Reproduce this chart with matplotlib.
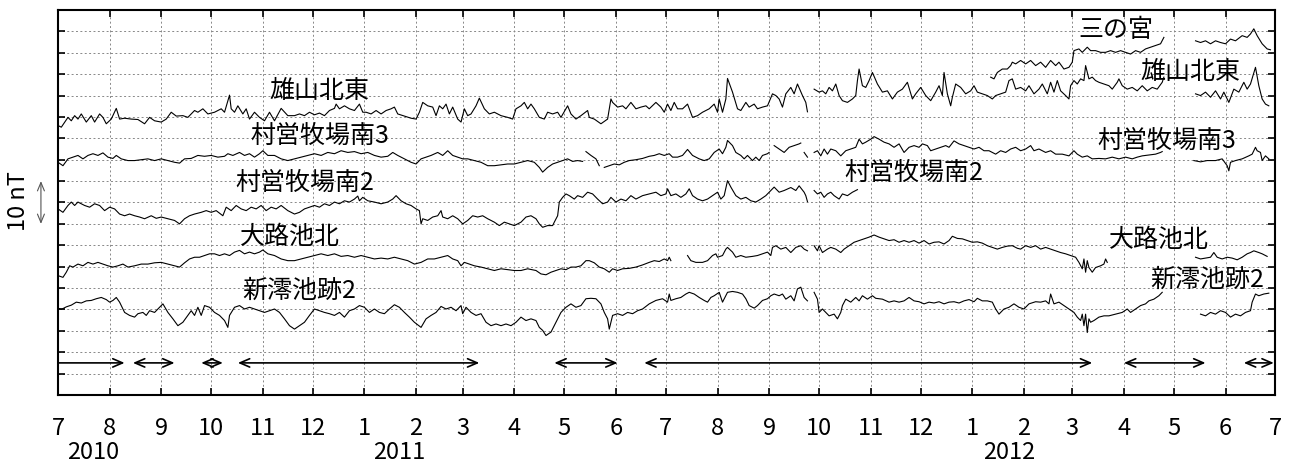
import numpy as np
import matplotlib.pyplot as plt

plt.rcParams['font.family'] = ['Noto Sans CJK JP', 'DejaVu Sans']

nan = np.nan
START = np.datetime64('2010-07-01')

# (days since 2010-07-01, nT) ; nan marks a data gap
sannomiya = [(560, 74.3), (562, 73.9), (564, 75.4), (567, 76.2), (570, 76.2), (572, 77.0), (573, 77.8), (575, 77.4),
             (578, 78.2), (581, 77.4), (584, 78.2), (587, 77.0), (590, 77.8), (593, 76.6), (596, 78.2), (599, 77.0),
             (601, 77.8), (604, 76.2), (607, 76.6), (609, 77.8), (610, 80.5), (613, 80.9), (615, 80.1), (618, 81.3),
             (620, 80.5), (623, 80.5), (626, 80.1), (629, 80.1), (632, 80.5), (635, 80.1), (638, 80.5), (641, 80.1),
             (644, 79.7), (647, 80.5), (650, 80.1), (653, 80.9), (656, 81.3), (659, 81.7), (662, 82.1), (664, 83.6),
             (670, nan), (683, 82.8), (686, 82.4), (689, 82.8), (692, 82.1), (695, 82.8), (698, 82.4), (701, 82.1),
             (704, 83.2), (707, 82.8), (711, 84.0), (714, 83.6), (716, 84.4), (718, 85.6), (720, 84.0), (723, 82.1),
             (726, 80.9), (728, 80.7)]

oyama = [(0, 63.0), (2, 62.6), (6, 64.9), (8, 64.1), (10, 65.3), (12, 64.5), (14, 65.7), (17, 63.8), (20, 65.3),
         (22, 63.8), (25, 65.7), (27, 64.9), (29, 63.4), (32, 64.5), (35, 67.0), (37, 64.5), (40, 64.7), (44, 64.5),
         (48, 64.4), (52, 63.4), (55, 64.9), (58, 64.1), (62, 63.8), (65, 64.5), (68, 66.1), (71, 65.2), (75, 65.3),
         (78, 64.9), (82, 66.5), (84, 66.1), (87, 66.9), (90, 65.7), (94, 66.1), (98, 66.9), (100, 66.1), (103, 70.1),
         (104, 66.9), (106, 66.1), (108, 67.6), (111, 65.7), (113, 66.9), (115, 64.5), (118, 66.1), (121, 64.9),
         (124, 64.1), (127, 66.1), (130, 64.1), (134, 67.0), (138, 65.3), (142, 65.3),
         (145, 65.7), (148, 65.3), (151, 66.1), (154, 65.5), (157, 65.9), (160, 65.3), (163, 66.5), (166, 67.0),
         (167, 68.0), (169, 66.9), (172, 67.6), (175, 66.9), (178, 66.5), (181, 68.0), (183, 66.1), (185, 66.1),
         (188, 65.7), (191, 66.5), (194, 65.7), (197, 66.5), (200, 66.9), (202, 67.3), (204, 65.7), (208, 65.2),
         (212, 64.7), (215, 64.5), (217, 66.1), (219, 68.4), (222, 67.6), (225, 67.3), (227, 65.3), (229, 67.6),
         (231, 66.9), (233, 68.0), (235, 65.7), (237, 67.3), (240, 64.5), (242, 63.8), (244, 66.9), (246, 65.3),
         (248, 65.7), (251, 67.6), (253, 69.4), (256, 66.9), (259, 65.7), (262, 66.1), (266, 65.3), (270, 64.9),
         (273, 64.5), (275, 66.9), (278, 67.6), (280, 68.4), (282, 66.9), (284, 68.0), (286, 66.9),
         (289, 64.9), (292, 64.5), (294, 66.1), (297, 65.7), (300, 66.1), (302, 64.9), (306, 67.6), (308, 65.7),
         (311, 64.5), (314, 65.3), (318, 66.5), (319, 64.9), (322, 64.5), (326, 63.4), (330, 64.5), (332, 69.2),
         (333, 68.4), (336, 67.3), (339, 67.6), (341, 66.9), (344, 68.4), (347, 66.9), (350, 67.3), (353, 67.6),
         (355, 66.9), (359, 68.4), (362, 67.3), (364, 66.1), (366, 68.0), (368, 66.5), (370, 68.4), (372, 66.9),
         (375, 66.9), (378, 68.0), (381, 64.9), (384, 65.3), (387, 66.1), (391, 66.9), (394, 68.0), (396, 66.1),
         (397, 69.2), (399, 66.1), (401, 69.2), (402, 74.0), (405, 70.8), (408, 66.9), (410, 66.5), (413, 68.4),
         (415, 67.3), (418, 68.0), (420, 66.9), (423, 67.3), (426, 67.6), (429, 70.4),
         (431, 70.0), (433, 69.2), (435, 67.3), (437, 70.4), (440, 71.9), (442, 70.4), (444, 72.7), (447, 70.0),
         (449, 68.4), (450, 66.2), (452, nan), (454, 71.5), (457, 70.8), (459, 71.1), (461, 70.4), (463, 71.9),
         (465, 71.1), (467, 72.7), (469, 70.0), (471, 68.8), (474, 68.4), (477, 69.2), (479, 70.0), (480, 73.5),
         (481, 76.2), (483, 72.3), (485, 71.9), (487, 73.5), (489, 75.4), (492, 72.7), (495, 70.8), (498, 71.1),
         (501, 69.2), (504, 70.8), (507, 71.5), (510, 73.1), (513, 69.2), (515, 70.4), (518, 71.9), (521, 70.0),
         (524, 68.8), (527, 70.8), (529, 72.3), (531, 70.0), (532, 75.4), (534, 70.4), (536, 67.6), (537, 69.6),
         (539, 72.7), (542, 71.9), (545, 70.4), (548, 71.1), (550, 72.3), (552, 70.8), (555, 70.4), (558, 70.0),
         (561, 69.2), (563, 70.0), (566, 70.4), (569, 70.8), (571, 73.5), (573, 73.9),
         (575, 71.5), (578, 71.9), (581, 71.1), (583, 72.3), (586, 70.4), (589, 71.5), (591, 72.7), (594, 70.4),
         (596, 73.1), (598, 70.8), (600, 73.5), (602, 71.1), (605, 70.0), (607, 69.2), (608, 72.3), (610, 73.5),
         (612, 72.7), (614, 73.9), (616, 73.5), (617, 77.0), (619, 73.9), (621, 74.3), (623, 73.5), (625, 73.1),
         (628, 72.7), (631, 72.3), (633, 71.5), (636, 73.1), (637, 73.9), (639, 72.3), (642, 71.5), (645, 71.9),
         (648, 71.1), (651, 72.3), (654, 71.1), (657, 71.9), (660, 71.5), (663, 73.1), (664, 74.3), (670, nan),
         (683, 70.4), (686, 70.0), (689, 70.8), (692, 69.6), (695, 71.1), (698, 69.2), (700, 70.8), (703, 68.4),
         (706, 71.5), (709, 70.8), (712, 73.1), (714, 71.5), (716, 72.7), (719, 76.6), (721, 72.3), (723, 69.2),
         (725, 68.0), (727, 67.6)]

bokujo3 = [(0, 54.4), (3, 53.6), (6, 55.2), (9, 55.6), (12, 56.0), (15, 55.2), (18, 56.0), (21, 56.4), (24, 56.0),
           (27, 56.6), (30, 55.6), (33, 55.3), (35, 56.0), (38, 55.2), (42, 54.8), (46, 54.8), (50, 55.0), (54, 55.2),
           (58, 54.8), (62, 55.2), (66, 54.8), (70, 54.4), (73, 54.2), (76, 55.2), (80, 55.3), (84, 56.0), (88, 55.8),
           (92, 56.0), (96, 55.6), (100, 55.8), (102, 56.4), (105, 56.0), (109, 56.7), (112, 56.0), (115, 56.4),
           (118, 55.6), (121, 56.4), (123, 57.1), (126, 56.0), (130, 56.0), (134, 55.2), (138, 54.8),
           (142, 55.2), (146, 55.6), (150, 56.0), (154, 56.4), (158, 56.0), (162, 56.7), (166, 56.4), (170, 57.1),
           (174, 56.7), (178, 56.9), (182, 56.4), (186, 56.7), (190, 56.0), (194, 55.6), (198, 55.8), (201, 56.7),
           (204, 56.0), (208, 55.2), (212, 54.4), (215, 54.0), (218, 55.2), (221, 55.6), (224, 56.0), (228, 56.7),
           (231, 56.0), (234, 57.1), (237, 56.0), (240, 55.6), (243, 55.2), (246, 55.2), (250, 54.8), (254, 54.4),
           (258, 53.6), (262, 53.6), (266, 53.8), (270, 54.0), (274, 54.0), (278, 54.4), (282, 54.8), (286, 54.4),
           (289, 53.2), (291, 52.1), (294, 53.2), (297, 54.0), (300, 54.4), (303, 54.8), (306, 55.2), (309, 54.6),
           (312, 54.8), (315, 54.6), (316, nan), (317, 56.9), (320, 56.0), (323, 55.2), (325, 53.6), (326, nan),
           (328, 53.2), (331, 53.6), (334, 54.0), (337, 53.8), (340, 54.4), (343, 54.8), (347, 55.0), (351, 55.3),
           (355, 55.8), (358, 56.0), (361, 56.4), (364, 56.0), (367, 56.4), (369, 55.6), (372, 55.6), (375, 56.0),
           (378, 57.4), (381, 56.0), (385, 55.2), (388, 54.8), (391, 55.2), (394, 56.7), (397, 57.5), (399, 56.4),
           (401, 57.9), (402, 59.5), (405, 58.3), (407, 56.7), (410, 56.0), (412, 55.2), (414, 56.0), (417, 54.8),
           (419, 55.6), (421, 54.8), (423, 56.0), (426, 56.4), (427, 56.7), (428, nan), (430, 58.3),
           (433, 57.5), (436, 56.7), (439, 57.9), (442, 58.3), (445, 58.7), (446, 58.9), (447, nan), (448, 56.7),
           (450, 55.6), (452, nan), (454, 56.7), (456, 57.1), (458, 55.9), (460, 57.5), (462, 56.3), (464, 57.5),
           (467, 57.1), (470, 55.9), (473, 57.1), (476, 57.5), (479, 57.9), (481, 59.8), (483, 58.7), (485, 59.1),
           (488, 59.8), (490, 60.4), (493, 59.8), (496, 59.1), (499, 58.7), (502, 57.9), (505, 58.7), (508, 56.7),
           (511, 57.9), (514, 58.3), (517, 57.9), (519, 58.7), (522, 58.3), (524, 57.1), (527, 57.5), (530, 57.9),
           (533, 58.3), (535, 57.9), (538, 59.4), (541, 58.7), (544, 58.3), (547, 57.9), (550, 57.5), (553, 57.9),
           (556, 57.1), (559, 57.1), (563, 56.3), (566, 57.1), (569, 56.7), (572, 57.5), (575, 57.9),
           (578, 57.1), (581, 57.5), (584, 58.3), (586, 57.1), (589, 57.5), (593, 56.7), (596, 57.1), (599, 56.3),
           (603, 56.3), (607, 55.9), (610, 57.1), (612, 56.3), (615, 55.6), (618, 55.9), (621, 55.2), (625, 55.3),
           (629, 55.2), (633, 55.6), (637, 55.2), (641, 55.6), (645, 55.2), (648, 55.6), (651, 55.9), (655, 56.1),
           (659, 56.3), (662, 56.7), (663, 56.9), (670, nan), (682, 54.8), (686, 54.5), (690, 54.8), (695, 54.8),
           (699, 55.2), (702, 53.6), (703, 52.4), (704, 54.4), (707, 54.8), (711, 55.2), (715, 55.9), (717, 56.3),
           (719, 57.9), (720, 57.1), (722, 56.7), (723, 54.8), (725, 55.9), (727, 55.2)]

bokujo2 = [(0, 43.5), (3, 42.7), (6, 44.3), (8, 45.1), (10, 44.3), (12, 45.1), (16, 44.3), (19, 43.9), (22, 44.7),
           (25, 44.3), (28, 43.1), (31, 43.9), (34, 43.5), (37, 42.3), (40, 41.9), (43, 42.3), (46, 41.9), (49, 41.6),
           (52, 41.2), (56, 41.9), (59, 41.3), (62, 41.6), (66, 41.2), (70, 40.8), (73, 40.0), (76, 41.2), (79, 41.9),
           (82, 42.3), (86, 42.7), (89, 43.1), (92, 42.7), (95, 43.1), (99, 41.9), (101, 43.9), (104, 43.1),
           (107, 44.3), (110, 43.5), (113, 43.1), (116, 43.9), (119, 43.5), (122, 44.3), (125, 43.1), (128, 43.9),
           (131, 43.5), (134, 44.3), (138, 43.1),
           (142, 42.3), (145, 42.7), (148, 43.5), (151, 43.9), (154, 44.3), (157, 43.9), (160, 44.7), (163, 44.3),
           (166, 45.1), (169, 44.7), (172, 45.4), (175, 45.1), (178, 45.8), (180, 46.5), (181, 45.4), (183, 46.2),
           (186, 45.4), (190, 45.1), (194, 44.7), (198, 45.1), (201, 45.8), (203, 46.6), (206, 45.4), (209, 44.7),
           (212, 44.3), (215, 43.5), (217, 43.1), (218, 40.0), (219, 41.2), (222, 40.8), (225, 41.6), (228, 41.9),
           (230, 43.1), (231, 41.6), (234, 41.2), (237, 41.9), (240, 41.2), (243, 40.0), (246, 40.8), (249, 41.9),
           (252, 41.6), (255, 41.9), (258, 41.2), (262, 40.4), (265, 39.6), (268, 40.4), (271, 40.0), (274, 39.6),
           (278, 40.4), (281, 41.6), (284, 41.9),
           (287, 41.2), (289, 40.0), (291, 39.2), (294, 39.6), (297, 39.6), (298, 40.4), (300, 41.9), (301, 45.1),
           (303, 46.2), (305, 47.0), (307, 46.6), (310, 45.8), (312, 46.6), (315, 46.2), (318, 47.4), (321, 47.0),
           (324, 45.8), (327, 44.7), (330, 45.1), (332, 46.2), (335, 45.1), (338, 45.8), (341, 45.4), (344, 46.6),
           (347, 45.8), (351, 46.6), (355, 47.0), (359, 47.4), (362, 46.6), (365, 47.0), (366, 48.2), (368, 46.6),
           (371, 47.0), (374, 46.2), (377, 47.0), (379, 48.2), (381, 46.6), (384, 45.8), (387, 45.4), (390, 45.8),
           (393, 46.6), (396, 47.4), (398, 45.8), (400, 46.6), (402, 50.1), (404, 48.6), (407, 46.6), (410, 45.8),
           (413, 46.2), (416, 45.4), (419, 45.1), (422, 45.8), (425, 46.6), (428, 47.8), (430, 48.6),
           (433, 47.4), (436, 47.8), (440, 48.5), (443, 47.8), (445, 48.9), (448, 47.4), (449, 46.6), (450, 45.2),
           (452, nan), (454, 47.8), (456, 47.0), (458, 47.4), (460, 46.2), (462, 47.0), (464, 47.4), (466, 46.6),
           (469, 45.8), (471, 47.0), (474, 46.6), (477, 47.4), (480, 48.0)]

ojiike = [(0, 27.9), (3, 27.5), (5, 28.7), (7, 30.2), (9, 29.9), (12, 30.6), (15, 30.2), (18, 31.0), (21, 30.6),
          (24, 31.0), (27, 30.6), (30, 30.2), (33, 29.9), (36, 30.2), (39, 30.6), (42, 29.9), (46, 30.2), (50, 30.6),
          (54, 30.6), (58, 30.9), (62, 31.0), (66, 30.6), (70, 30.2), (73, 29.9), (76, 30.9), (79, 31.8), (82, 32.2),
          (85, 32.2), (88, 32.6), (91, 33.0), (94, 33.0), (97, 32.6), (100, 33.0), (103, 32.6), (106, 33.4),
          (109, 33.8), (112, 33.0), (115, 33.4), (118, 33.0), (121, 33.4), (123, 33.9), (126, 33.0), (130, 32.6),
          (134, 31.8), (138, 31.4),
          (142, 31.4), (146, 31.8), (150, 32.2), (154, 32.6), (158, 33.0), (162, 32.6), (166, 33.0), (170, 32.4),
          (174, 32.6), (178, 32.2), (182, 32.6), (186, 32.2), (190, 31.8), (194, 32.0), (198, 31.8), (202, 32.2),
          (206, 31.8), (210, 31.4), (214, 30.6), (218, 31.0), (222, 31.8), (226, 31.8), (230, 32.2), (234, 32.6),
          (237, 31.8), (240, 31.4), (242, 30.2), (244, 31.0), (247, 30.6), (250, 30.2), (254, 29.9), (258, 29.5),
          (262, 29.1), (266, 29.5), (270, 29.3), (274, 29.1), (278, 29.1), (282, 29.5),
          (287, 29.1), (290, 28.3), (293, 28.1), (296, 28.7), (299, 29.1), (302, 29.5), (305, 29.3), (308, 29.9),
          (311, 29.9), (314, 30.2), (317, 31.4), (319, 31.4), (322, 30.9), (325, 29.9), (328, 29.5), (331, 28.7),
          (333, 29.5), (336, 29.1), (339, 29.5), (343, 29.6), (347, 29.9), (351, 30.4), (355, 31.0), (358, 31.4),
          (361, 31.2), (364, 31.8), (366, 31.4), (367, 32.2), (368, 31.4), (372, nan), (378, 32.6), (380, 31.4),
          (383, 31.0), (387, 31.0), (390, 31.4), (393, 32.6), (395, 33.0), (396, 32.2), (399, 32.6), (401, 34.1),
          (402, 34.5), (405, 33.4), (407, 32.2), (410, 32.6), (413, 32.2), (417, 32.4), (420, 32.6), (423, 33.0),
          (426, 33.4), (428, 32.6), (429, 34.5),
          (431, 34.9), (434, 34.1), (437, 34.5), (440, 33.3), (443, 34.5), (446, 34.9), (448, 34.1), (450, 33.7),
          (452, nan), (454, 34.9), (456, 33.7), (457, 34.9), (459, 33.3), (462, 34.1), (464, 34.5), (467, 34.1),
          (470, 33.3), (472, 34.1), (475, 34.9), (478, 35.7), (481, 36.1), (484, 36.5), (487, 36.9), (490, 37.4),
          (493, 36.9), (496, 36.5), (499, 36.1), (502, 36.3), (505, 35.7), (508, 36.1), (511, 35.7), (514, 36.1),
          (517, 35.5), (520, 36.1), (523, 35.3), (526, 35.7), (529, 35.8), (532, 35.3), (535, 36.1), (537, 37.1),
          (540, 36.6), (543, 36.5), (546, 36.1), (549, 35.7), (552, 35.8), (555, 35.5), (558, 34.9), (561, 34.5),
          (564, 34.1), (567, 34.5), (570, 34.8), (573, 34.9), (576, 34.3),
          (578, 34.1), (581, 34.9), (584, 34.5), (587, 34.9), (590, 34.1), (593, 34.5), (596, 34.1), (599, 33.7),
          (602, 33.3), (605, 33.0), (608, 32.6), (611, 32.2), (613, 31.0), (615, 29.5), (616, 31.8), (617, 28.7),
          (618, 31.4), (619, 29.8), (621, 28.7), (623, 29.8), (626, 30.2), (628, 30.6), (629, 31.8), (630, 31.0),
          (650, nan), (683, 32.2), (686, 31.8), (689, 32.0), (692, 32.2), (694, 33.3), (696, 32.2), (699, 31.8),
          (702, 32.2), (705, 32.0), (708, 31.6), (711, 32.2), (714, 33.0), (716, 33.3), (718, 33.7), (721, 33.3),
          (723, 33.0), (726, 32.4)]

shinmio = [(0, 20.3), (2, 20.0), (5, 20.6), (8, 21.0), (11, 21.7), (14, 21.5), (17, 22.0), (20, 22.1), (23, 22.5),
           (26, 22.8), (29, 22.3), (31, 21.7), (33, 22.1), (35, 22.8), (37, 21.7), (40, 19.3), (43, 18.6), (46, 18.2),
           (48, 19.0), (51, 19.3), (53, 18.6), (55, 19.7), (58, 19.3), (61, 20.5), (63, 21.3), (66, 19.3), (69, 17.8),
           (72, 16.2), (75, 17.0), (78, 18.6), (80, 19.7), (82, 18.6), (84, 20.5), (86, 18.6), (88, 20.9), (91, 20.5),
           (94, 19.3), (97, 18.6), (100, 17.4), (102, 15.8), (103, 18.6), (106, 20.5), (109, 20.9), (112, 20.1),
           (115, 20.5), (118, 20.1), (121, 19.7), (124, 19.3), (127, 19.7), (130, 20.1), (133, 19.3), (136, 17.8),
           (139, 16.2),
           (142, 15.4), (145, 16.2), (148, 17.0), (151, 18.6), (154, 20.1), (157, 19.7), (160, 19.3), (163, 19.0),
           (166, 18.6), (169, 19.3), (172, 18.2), (175, 19.7), (178, 20.1), (181, 20.9), (184, 20.5), (187, 19.3),
           (190, 20.1), (193, 19.3), (196, 19.0), (199, 20.1), (202, 21.1), (205, 20.5), (208, 19.3), (211, 18.2),
           (214, 17.0), (218, 15.8), (221, 17.8), (224, 18.6), (227, 19.3), (230, 20.7), (233, 20.1), (236, 20.5),
           (239, 19.7), (242, 20.9), (243, 19.0), (245, 20.5), (248, 19.3), (251, 18.6), (254, 19.0), (257, 17.0),
           (260, 16.2), (263, 16.6), (266, 16.2), (269, 16.6), (272, 16.2), (275, 17.0), (278, 18.2), (281, 17.4),
           (284, 17.8),
           (287, 17.4), (289, 15.8), (291, 15.1), (293, 13.9), (296, 14.7), (299, 17.0), (302, 19.3), (305, 20.5),
           (308, 21.3), (311, 20.5), (314, 20.9), (317, 22.5), (320, 22.6), (323, 22.5), (326, 21.3), (328, 19.3),
           (330, 17.8), (331, 15.4), (333, 18.6), (336, 19.0), (339, 18.6), (342, 19.3), (345, 19.0), (348, 19.7),
           (351, 20.1), (355, 21.3), (359, 22.1), (363, 22.5), (366, 21.7), (367, 23.6), (368, 22.1), (371, 22.5),
           (374, 22.8), (377, 23.6), (379, 24.0), (382, 23.6), (385, 22.8), (388, 22.1), (390, 21.7), (392, 22.8),
           (394, 23.2), (397, 24.0), (399, 21.7), (402, 24.0), (405, 24.2), (408, 24.0), (411, 23.6), (413, 22.5),
           (415, 20.9), (418, 20.3), (420, 20.9), (423, 22.1), (426, 22.5), (428, 23.2), (430, 23.6),
           (433, 23.2), (435, 23.6), (437, 22.4), (440, 23.2), (442, 22.0), (444, 24.8), (446, 25.2), (448, 22.8),
           (450, 22.0), (452, nan), (454, 24.0), (456, 22.4), (457, 19.3), (459, 20.1), (460, 19.7), (463, 18.5),
           (466, 18.9), (468, 17.8), (470, 19.3), (471, 20.9), (473, 22.4), (476, 21.7), (479, 22.8), (481, 22.0),
           (483, 23.2), (486, 22.4), (489, 23.2), (491, 22.6), (495, 22.4), (499, 21.7), (502, 22.0), (505, 21.7),
           (508, 22.0), (511, 22.8), (514, 22.0), (517, 21.8), (520, 21.3), (523, 21.7), (526, 21.5), (529, 21.8),
           (532, 21.3), (535, 21.7), (538, 21.8), (541, 21.5), (544, 22.0), (547, 22.3), (550, 21.8), (552, 22.6),
           (555, 22.0), (558, 22.0), (561, 21.7), (563, 20.1), (565, 18.9), (568, 20.1), (571, 20.5), (574, 21.3),
           (577, 20.5), (580, 20.1),
           (583, 21.3), (587, 21.8), (590, 21.7), (593, 22.0), (595, 21.3), (596, 23.6), (598, 21.3), (601, 21.7),
           (604, 20.9), (607, 20.1), (610, 19.3), (612, 18.2), (614, 17.4), (615, 18.9), (616, 16.2), (617, 18.9),
           (618, 14.6), (619, 17.8), (620, 17.0), (622, 17.4), (625, 18.2), (628, 18.5), (631, 18.5), (635, 18.9),
           (639, 19.3), (642, 20.1), (644, 19.3), (647, 20.1), (650, 20.9), (653, 21.3), (655, 22.0), (658, 22.4),
           (661, 23.2), (663, 24.0), (670, nan), (686, 18.9), (689, 18.5), (692, 19.3), (695, 18.9), (698, 19.7),
           (701, 19.3), (704, 18.2), (707, 18.9), (710, 18.5), (713, 19.3), (716, 19.7), (717, 21.7), (719, 23.6),
           (721, 23.2), (724, 23.6), (727, 23.8)]

# station name labels
label_text = ['三の宮', '雄山北東', '雄山北東', '村営牧場南3', '村営牧場南3', '村営牧場南2', '村営牧場南2',
              '大路池北', '大路池北', '新澪池跡2', '新澪池跡2']
label_day = [635, 157, 680, 157, 666, 148, 514, 139, 661, 145, 690]
label_nT = [85.6, 71.3, 75.8, 60.8, 59.6, 49.8, 52.1, 37.2, 36.5, 24.5, 27.1]

# observation periods (arrows along the bottom)
period_start = [0, 45, 86, 108, 298, 352, 640, 712]
period_end = [40, 70, 99, 253, 336, 621, 689, 730]

years = ['2010', '2011', '2012']
year_day = [21, 205, 571]

fig = plt.figure(figsize=(12.97, 4.64), dpi=100)
ax = fig.add_axes([0.0447, 0.1466, 0.9387, 0.8297])

for series in [sannomiya, oyama, bokujo3, bokujo2, ojiike, shinmio]:
    d = np.array(series, dtype=float)
    ax.plot(d[:, 0], d[:, 1], color='black', lw=0.8)

for t, x, y in zip(label_text, label_day, label_nT):
    ax.text(x, y, t, ha='center', va='center', fontsize=18)

for s, e in zip(period_start, period_end):
    style = '->' if s == 0 else '<->'
    ax.annotate('', xy=(e, 7.5), xytext=(s, 7.5),
                arrowprops=dict(arrowstyle=style + ',head_length=0.7,head_width=0.3',
                                color='black', lw=1.2, shrinkA=0, shrinkB=0))

# month ticks
months = np.arange('2010-07', '2012-08', dtype='datetime64[M]')
month_days = (months.astype('datetime64[D]') - START).astype(int)
month_labels = [str(int(str(m)[5:7])) for m in months]
ax.set_xticks(month_days)
ax.set_xticklabels(month_labels, fontsize=17)
ax.set_yticks(np.arange(0, 91, 5))
ax.set_xlim(0, month_days[-1])
ax.set_ylim(0, 90)
ax.tick_params(axis='both', direction='in', length=5, width=1.2, top=True, right=True)
ax.tick_params(axis='x', pad=15)
ax.tick_params(axis='y', labelleft=False)
ax.grid(True, color='#888888', linestyle=(0, (2, 2.5)), lw=0.7)
for sp in ax.spines.values():
    sp.set_linewidth(1.5)

for y, d in zip(years, year_day):
    ax.text(d, -0.148, y, transform=ax.get_xaxis_transform(), ha='center', va='center', fontsize=17)

# 10 nT scale
ax.annotate('', xy=(-0.014, 50), xytext=(-0.014, 40), xycoords=ax.get_yaxis_transform(),
            textcoords=ax.get_yaxis_transform(), annotation_clip=False,
            arrowprops=dict(arrowstyle='<->,head_length=0.6,head_width=0.25', color='#555555', lw=0.8,
                            shrinkA=0, shrinkB=0))
fig.text(0.0145, 0.567, '10 nT', rotation=90, ha='center', va='center', fontsize=17)

fig.savefig('out.png', dpi=100)
